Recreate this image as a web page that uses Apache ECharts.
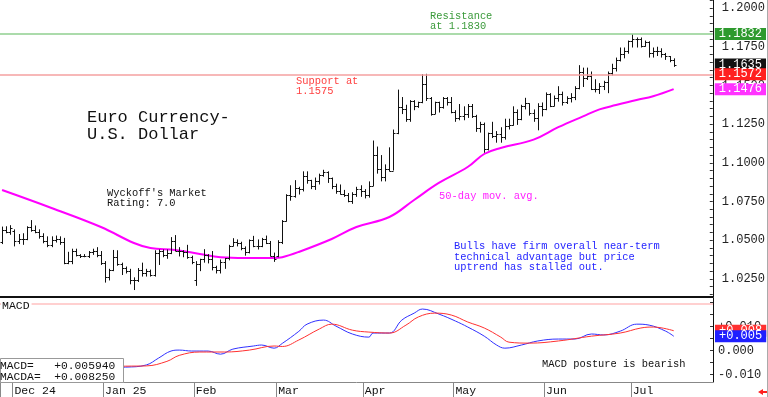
<!DOCTYPE html>
<html>
<head>
<meta charset="utf-8">
<script src="https://cdn.jsdelivr.net/npm/echarts@6/dist/echarts.min.js"></script>
<style>
  html, body { margin: 0; padding: 0; background: #fff; }
  #chart { width: 768px; height: 397px; }
</style>
</head>
<body>
<div id="chart"></div>
<script>
// x slots: weekdays from this date on, Jan 1 left out like the source chart
const startDate = "2024-11-27";
const slotCount = 173;
const skipDays = ["2025-01-01"];
const monthLabels = {
  "2024-12": "Dec 24", "2025-01": "Jan 25", "2025-02": "Feb", "2025-03": "Mar",
  "2025-04": "Apr", "2025-05": "May", "2025-06": "Jun", "2025-07": "Jul"
};

// daily bars: [open, high, low, close]
const bars = [
  // Nov 27-29
  [1.0490, 1.0588, 1.0475, 1.0565], [1.0565, 1.0590, 1.0545, 1.0555], [1.0555, 1.0597, 1.0535, 1.0577],
  // Dec
  [1.0560, 1.0570, 1.0460, 1.0497], [1.0497, 1.0540, 1.0475, 1.0510], [1.0510, 1.0545, 1.0470, 1.0510],
  [1.0510, 1.0590, 1.0500, 1.0587], [1.0587, 1.0630, 1.0555, 1.0568], [1.0568, 1.0595, 1.0545, 1.0555],
  [1.0555, 1.0570, 1.0510, 1.0526], [1.0526, 1.0545, 1.0480, 1.0497], [1.0497, 1.0525, 1.0455, 1.0469],
  [1.0469, 1.0525, 1.0455, 1.0502], [1.0502, 1.0530, 1.0485, 1.0510], [1.0510, 1.0525, 1.0470, 1.0490],
  [1.0490, 1.0515, 1.0345, 1.0352], [1.0352, 1.0425, 1.0345, 1.0363], [1.0363, 1.0445, 1.0345, 1.0430],
  [1.0430, 1.0445, 1.0395, 1.0406], [1.0406, 1.0410, 1.0385, 1.0398], [1.0398, 1.0410, 1.0390, 1.0400],
  [1.0400, 1.0430, 1.0385, 1.0422], [1.0422, 1.0445, 1.0405, 1.0427], [1.0427, 1.0455, 1.0390, 1.0406],
  [1.0406, 1.0430, 1.0340, 1.0354],
  // Jan
  [1.0354, 1.0365, 1.0226, 1.0265], [1.0265, 1.0315, 1.0240, 1.0309], [1.0309, 1.0437, 1.0300, 1.0390],
  [1.0390, 1.0435, 1.0335, 1.0343], [1.0343, 1.0355, 1.0275, 1.0318], [1.0318, 1.0330, 1.0285, 1.0300],
  [1.0300, 1.0315, 1.0215, 1.0244], [1.0244, 1.0260, 1.0178, 1.0244], [1.0244, 1.0320, 1.0230, 1.0308],
  [1.0308, 1.0355, 1.0265, 1.0290], [1.0290, 1.0315, 1.0265, 1.0300], [1.0300, 1.0310, 1.0265, 1.0272],
  [1.0272, 1.0435, 1.0265, 1.0416], [1.0416, 1.0440, 1.0340, 1.0430], [1.0430, 1.0440, 1.0390, 1.0407],
  [1.0407, 1.0440, 1.0380, 1.0415], [1.0415, 1.0520, 1.0410, 1.0495], [1.0495, 1.0533, 1.0430, 1.0430],
  [1.0430, 1.0455, 1.0395, 1.0430], [1.0430, 1.0435, 1.0390, 1.0425], [1.0425, 1.0470, 1.0380, 1.0390],
  [1.0390, 1.0400, 1.0345, 1.0362],
  // Feb
  [1.0245, 1.0365, 1.0205, 1.0345], [1.0345, 1.0380, 1.0300, 1.0380], [1.0380, 1.0442, 1.0355, 1.0403],
  [1.0403, 1.0410, 1.0350, 1.0380], [1.0380, 1.0430, 1.0305, 1.0330], [1.0330, 1.0335, 1.0285, 1.0306],
  [1.0306, 1.0375, 1.0285, 1.0360], [1.0360, 1.0385, 1.0315, 1.0385], [1.0385, 1.0470, 1.0370, 1.0465],
  [1.0465, 1.0513, 1.0460, 1.0490], [1.0490, 1.0505, 1.0460, 1.0485], [1.0485, 1.0490, 1.0435, 1.0450],
  [1.0450, 1.0460, 1.0400, 1.0422], [1.0422, 1.0505, 1.0415, 1.0500], [1.0500, 1.0528, 1.0455, 1.0460],
  [1.0460, 1.0505, 1.0440, 1.0465], [1.0465, 1.0515, 1.0455, 1.0510], [1.0510, 1.0530, 1.0475, 1.0485],
  [1.0485, 1.0495, 1.0395, 1.0400], [1.0400, 1.0420, 1.0360, 1.0377],
  // Mar
  [1.0400, 1.0500, 1.0390, 1.0487], [1.0487, 1.0630, 1.0475, 1.0625], [1.0625, 1.0797, 1.0620, 1.0790],
  [1.0790, 1.0855, 1.0755, 1.0785], [1.0785, 1.0888, 1.0775, 1.0835], [1.0835, 1.0845, 1.0795, 1.0833],
  [1.0833, 1.0945, 1.0815, 1.0918], [1.0918, 1.0945, 1.0865, 1.0887], [1.0887, 1.0890, 1.0830, 1.0852],
  [1.0852, 1.0905, 1.0825, 1.0880], [1.0880, 1.0930, 1.0860, 1.0922], [1.0922, 1.0955, 1.0910, 1.0940],
  [1.0940, 1.0945, 1.0870, 1.0900], [1.0900, 1.0905, 1.0830, 1.0850], [1.0850, 1.0865, 1.0800, 1.0815],
  [1.0815, 1.0860, 1.0795, 1.0800], [1.0800, 1.0825, 1.0780, 1.0792], [1.0792, 1.0805, 1.0745, 1.0753],
  [1.0753, 1.0810, 1.0735, 1.0800], [1.0800, 1.0845, 1.0780, 1.0830], [1.0830, 1.0855, 1.0780, 1.0816],
  // Apr
  [1.0816, 1.0830, 1.0770, 1.0790], [1.0790, 1.0880, 1.0775, 1.0850], [1.0850, 1.1144, 1.0850, 1.1050],
  [1.1050, 1.1105, 1.0930, 1.0960], [1.0960, 1.1050, 1.0880, 1.0910], [1.0910, 1.0990, 1.0880, 1.0960],
  [1.0960, 1.1100, 1.0945, 1.0950], [1.0950, 1.1215, 1.0950, 1.1190], [1.1190, 1.1473, 1.1185, 1.1360],
  [1.1360, 1.1425, 1.1315, 1.1350], [1.1350, 1.1375, 1.1265, 1.1285], [1.1285, 1.1405, 1.1265, 1.1400],
  [1.1400, 1.1405, 1.1340, 1.1365], [1.1365, 1.1395, 1.1355, 1.1390], [1.1390, 1.1573, 1.1385, 1.1510],
  [1.1510, 1.1575, 1.1400, 1.1420], [1.1420, 1.1425, 1.1305, 1.1315], [1.1315, 1.1395, 1.1315, 1.1390],
  [1.1390, 1.1395, 1.1325, 1.1363], [1.1363, 1.1425, 1.1350, 1.1420], [1.1420, 1.1425, 1.1370, 1.1390],
  [1.1390, 1.1425, 1.1320, 1.1330],
  // May
  [1.1330, 1.1340, 1.1265, 1.1290], [1.1290, 1.1380, 1.1275, 1.1300], [1.1300, 1.1365, 1.1275, 1.1315],
  [1.1315, 1.1380, 1.1290, 1.1370], [1.1370, 1.1380, 1.1290, 1.1300], [1.1300, 1.1310, 1.1200, 1.1225],
  [1.1225, 1.1265, 1.1195, 1.1250], [1.1250, 1.1260, 1.1065, 1.1090], [1.1090, 1.1195, 1.1080, 1.1190],
  [1.1190, 1.1265, 1.1160, 1.1175], [1.1175, 1.1205, 1.1130, 1.1185], [1.1185, 1.1230, 1.1130, 1.1165],
  [1.1165, 1.1285, 1.1150, 1.1240], [1.1240, 1.1285, 1.1215, 1.1245], [1.1245, 1.1365, 1.1240, 1.1330],
  [1.1330, 1.1345, 1.1245, 1.1280], [1.1280, 1.1375, 1.1275, 1.1365], [1.1365, 1.1420, 1.1345, 1.1385],
  [1.1385, 1.1385, 1.1305, 1.1325], [1.1325, 1.1345, 1.1265, 1.1290], [1.1290, 1.1385, 1.1210, 1.1370],
  [1.1370, 1.1390, 1.1300, 1.1345],
  // Jun
  [1.1345, 1.1455, 1.1340, 1.1445], [1.1445, 1.1450, 1.1360, 1.1370], [1.1370, 1.1435, 1.1365, 1.1420],
  [1.1420, 1.1495, 1.1395, 1.1445], [1.1445, 1.1460, 1.1370, 1.1395], [1.1395, 1.1430, 1.1380, 1.1420],
  [1.1420, 1.1450, 1.1390, 1.1425], [1.1425, 1.1495, 1.1405, 1.1485], [1.1485, 1.1631, 1.1475, 1.1585],
  [1.1585, 1.1615, 1.1490, 1.1550], [1.1550, 1.1615, 1.1535, 1.1560], [1.1560, 1.1590, 1.1470, 1.1480],
  [1.1480, 1.1540, 1.1455, 1.1480], [1.1480, 1.1515, 1.1445, 1.1495], [1.1495, 1.1530, 1.1470, 1.1520],
  [1.1520, 1.1590, 1.1450, 1.1580], [1.1580, 1.1640, 1.1565, 1.1610], [1.1610, 1.1680, 1.1590, 1.1665],
  [1.1665, 1.1745, 1.1655, 1.1700], [1.1700, 1.1745, 1.1675, 1.1720], [1.1720, 1.1790, 1.1705, 1.1787],
  // Jul 1-15
  [1.1787, 1.1830, 1.1745, 1.1800], [1.1800, 1.1810, 1.1745, 1.1800], [1.1800, 1.1810, 1.1745, 1.1755],
  [1.1755, 1.1790, 1.1750, 1.1780], [1.1780, 1.1785, 1.1680, 1.1710], [1.1710, 1.1745, 1.1680, 1.1725],
  [1.1725, 1.1750, 1.1690, 1.1720], [1.1720, 1.1740, 1.1680, 1.1700], [1.1700, 1.1710, 1.1665, 1.1690],
  [1.1690, 1.1690, 1.1650, 1.1665], [1.1665, 1.1675, 1.1620, 1.1635]
];

// 50-day moving average: [slot, value]
const ma50 = [
  [0, 1.0824], [12, 1.0708], [24, 1.0585], [32, 1.0482], [36, 1.0450], [42, 1.0437],
  [48, 1.0411], [53, 1.0390], [59, 1.0385], [66, 1.0385], [68, 1.0390], [72, 1.0424],
  [80, 1.0508], [86, 1.0585], [94, 1.0650], [100, 1.0760], [106, 1.0870], [113, 1.0973],
  [117, 1.1057], [121, 1.1096], [129, 1.1150], [135, 1.1230], [141, 1.1300], [145, 1.1345],
  [149, 1.1373], [154, 1.1406], [158, 1.1430], [163, 1.1476]
];

// MACD (blue) and its average (red): [slot, value]
const macd = [
  [0, -0.0070], [10, -0.0066], [20, -0.0072], [30, -0.0069], [35, -0.0060], [38, -0.0031],
  [41, -0.0002], [43, 0.0002], [46, -0.0002], [50, -0.0002], [53, -0.0015], [56, 0.0006],
  [61, 0.0019], [63, 0.0023], [66, 0.0010], [68, 0.0030], [72, 0.0080], [74, 0.0110],
  [78, 0.0127], [81, 0.0102], [85, 0.0069], [89, 0.0056], [90, 0.0073], [94, 0.0073],
  [97, 0.0127], [100, 0.0156], [102, 0.0173], [106, 0.0152], [110, 0.0123], [113, 0.0098],
  [117, 0.0060], [120, 0.0023], [122, 0.0010], [126, 0.0023], [130, 0.0040], [135, 0.0048],
  [139, 0.0048], [143, 0.0069], [146, 0.0065], [150, 0.0081], [154, 0.0110], [157, 0.0106],
  [161, 0.0081], [163, 0.00594]
];
const macdAvg = [
  [0, -0.0068], [10, -0.0067], [20, -0.0068], [30, -0.0065], [35, -0.0064], [40, -0.0045],
  [43, -0.0020], [48, -0.0006], [54, -0.0006], [60, 0.0002], [66, 0.0019], [68, 0.0017],
  [72, 0.0044], [77, 0.0090], [80, 0.0110], [85, 0.0085], [89, 0.0077], [94, 0.0073],
  [98, 0.0106], [101, 0.0140], [105, 0.0156], [109, 0.0148], [113, 0.0119], [117, 0.0094],
  [121, 0.0056], [123, 0.0035], [128, 0.0031], [135, 0.0040], [143, 0.0060], [150, 0.0073],
  [155, 0.0094], [158, 0.0098], [163, 0.00825]
];

const priceLabels = [1.025, 1.05, 1.075, 1.1, 1.125, 1.15, 1.175, 1.2];
const macdLabels = [-0.01, 0, 0.01];
const resistance = 1.1832;
const support = 1.1572;
const macdRefLine = 0.0195;

const mono = "Liberation Mono";

// build the weekday slots
const dates = [];
const d = new Date(startDate + "T00:00:00Z");
while (dates.length < slotCount) {
  const s = d.toISOString().slice(0, 10);
  const wd = d.getUTCDay();
  if (wd !== 0 && wd !== 6 && !skipDays.includes(s)) dates.push(s);
  d.setUTCDate(d.getUTCDate() + 1);
}
const monthStart = new Set();
dates.forEach((s, i) => {
  if (i > 0 && s.slice(0, 7) !== dates[i - 1].slice(0, 7)) monthStart.add(i);
});

function stepTicks(from, to, step) {
  const out = [];
  for (let v = from; v <= to + 1e-9; v += step) out.push(+v.toFixed(4));
  return out;
}

function renderBar(params, api) {
  const i = api.value(0);
  const o = api.coord([i, api.value(1)]);
  const h = api.coord([i, api.value(2)]);
  const l = api.coord([i, api.value(3)]);
  const c = api.coord([i, api.value(4)]);
  const x = Math.round(h[0]) + 0.5;
  const yo = Math.round(o[1]) + 0.5;
  const yc = Math.round(c[1]) + 0.5;
  const st = { stroke: "#111", lineWidth: 1 };
  return {
    type: "group",
    children: [
      { type: "line", shape: { x1: x, y1: h[1], x2: x, y2: l[1] }, style: st },
      { type: "line", shape: { x1: x - 2, y1: yo, x2: x, y2: yo }, style: st },
      { type: "line", shape: { x1: x, y1: yc, x2: x + 2, y2: yc }, style: st }
    ]
  };
}

// chart software cuts the last digit instead of rounding it
const cut3 = (v) => (v > 0 ? "+" : "") + (Math.trunc(v * 1000) / 1000).toFixed(3);
const fmt4 = (v) => v.toFixed(4);

// value tag on the right axis; the line itself only shows when a colour is given
function tag(value, bg, fmt, lineColor) {
  return {
    yAxis: value,
    lineStyle: lineColor ? { color: lineColor, width: 1.5, type: "solid" } : { color: "rgba(0,0,0,0)", width: 0 },
    label: {
      show: true, position: "end", distance: 2,
      formatter: () => fmt(value),
      backgroundColor: bg, color: "#fff", fontFamily: mono, fontSize: 12,
      lineHeight: 11, padding: [1, 4, 0, 4]
    }
  };
}

function textEl(x, y, text, color, size, lh) {
  return {
    type: "text", x: x, y: y, z: 50,
    style: { text: text, fill: color, fontFamily: mono, fontSize: size, lineHeight: lh, textVerticalAlign: "top" }
  };
}

const lastClose = bars[bars.length - 1][3];
const lastMa = ma50[ma50.length - 1][1];
const lastMacd = macd[macd.length - 1][1];
const lastMacdAvg = macdAvg[macdAvg.length - 1][1];

const chart = echarts.init(document.getElementById("chart"));
chart.setOption({
  animation: false,
  grid: [
    { left: 0, right: 55, top: 0, height: 297 },
    { left: 0, right: 55, top: 298, height: 84 }
  ],
  xAxis: [
    {
      type: "category", gridIndex: 0, data: dates, boundaryGap: true,
      axisLine: { onZero: false, lineStyle: { color: "#111", width: 2 } },
      axisTick: { show: false }, axisLabel: { show: false }
    },
    {
      type: "category", gridIndex: 1, data: dates, boundaryGap: true,
      axisLine: { onZero: false, lineStyle: { color: "#888" } },
      axisTick: { show: false },
      axisLabel: {
        interval: (i) => monthStart.has(i),
        formatter: (v) => monthLabels[v.slice(0, 7)] || "",
        align: "left", margin: 3, fontFamily: mono, fontSize: 11.5, color: "#111"
      }
    }
  ],
  yAxis: [
    {
      type: "value", gridIndex: 0, position: "right", min: 1.0133, max: 1.2052,
      splitLine: { show: false },
      axisLine: { show: true, lineStyle: { color: "#111" } },
      axisTick: { show: true, inside: true, length: 3, customValues: stepTicks(1.015, 1.205, 0.005), lineStyle: { color: "#333" } },
      axisLabel: {
        customValues: priceLabels, formatter: (v) => v.toFixed(4),
        margin: 9, fontFamily: mono, fontSize: 12, color: "#222"
      }
    },
    {
      type: "value", gridIndex: 1, position: "right", min: -0.0131, max: 0.0219,
      splitLine: { show: false },
      axisLine: { show: true, lineStyle: { color: "#111" } },
      axisTick: { show: true, inside: true, length: 3, customValues: stepTicks(-0.01, 0.02, 0.005), lineStyle: { color: "#333" } },
      axisLabel: {
        customValues: macdLabels,
        formatter: (v) => (v > 0 ? "+" : "") + v.toFixed(3),
        margin: 5, fontFamily: mono, fontSize: 12, color: "#222"
      }
    }
  ],
  series: [
    {
      name: "EUR/USD", type: "custom", xAxisIndex: 0, yAxisIndex: 0,
      data: bars.map((b, i) => [i].concat(b)),
      encode: { x: 0, y: [1, 2, 3, 4] },
      renderItem: renderBar, z: 3
    },
    {
      name: "50-day", type: "line", xAxisIndex: 0, yAxisIndex: 0,
      data: ma50, smooth: 0.4, symbol: "none",
      lineStyle: { color: "#ff00ff", width: 2 }, z: 2,
      markLine: {
        silent: true, symbol: ["none", "none"], animation: false, precision: 5,
        data: [
          tag(resistance, "#2e9a2e", fmt4, "#8fcf8f"),
          tag(lastClose, "#111", fmt4),
          tag(support, "#ff2020", fmt4, "#f5a0a0"),
          tag(lastMa, "#ff33ff", fmt4)
        ]
      }
    },
    {
      name: "MACD", type: "line", xAxisIndex: 1, yAxisIndex: 1,
      data: macd, smooth: 0.4, symbol: "none",
      lineStyle: { color: "#3030ff", width: 1 }
    },
    {
      name: "MACDA", type: "line", xAxisIndex: 1, yAxisIndex: 1,
      data: macdAvg, smooth: 0.4, symbol: "none",
      lineStyle: { color: "#ff3030", width: 1 },
      markLine: {
        silent: true, symbol: ["none", "none"], animation: false, precision: 6,
        data: [
          { yAxis: macdRefLine, lineStyle: { color: "#ffc0c0", width: 1.5, type: "solid" }, label: { show: false } },
          tag(lastMacdAvg, "#ff3030", cut3),
          tag(lastMacd, "#2020ff", cut3)
        ]
      }
    }
  ]
});

// month separators in the date strip, at the left edge of each month's first slot
const band = chart.convertToPixel({ xAxisIndex: 1 }, 1) - chart.convertToPixel({ xAxisIndex: 1 }, 0);
const stripTop = chart.convertToPixel({ yAxisIndex: 1 }, -0.0131);
const separators = [0].concat(Array.from(monthStart)).map((i) => {
  const x = Math.round(chart.convertToPixel({ xAxisIndex: 1 }, i) - band / 2) + 0.5;
  return {
    type: "line", z: 40, shape: { x1: x, y1: stripTop, x2: x, y2: 397 },
    style: { stroke: "#888", lineWidth: 1 }
  };
});

chart.setOption({
  graphic: [
    textEl(430, 11.5, "Resistance\nat 1.1830", "#3a9a3a", 10.4, 10),
    textEl(296, 76.7, "Support at\n1.1575", "#ff4040", 10.4, 10),
    textEl(87, 108.5, "Euro Currency-\nU.S. Dollar", "#111", 17, 17),
    textEl(107, 188.3, "Wyckoff's Market\nRating: 7.0", "#111", 10.4, 10),
    textEl(439, 191, "50-day mov. avg.", "#ff22ff", 10.4, 10),
    textEl(454, 241.5, "Bulls have firm overall near-term\ntechnical advantage but price\nuptrend has stalled out.", "#2525ff", 10.4, 10.3),
    textEl(542, 359.7, "MACD posture is bearish", "#111", 10.4, 10),
    {
      type: "text", x: 1, y: 300, z: 60,
      style: { text: "MACD", fill: "#111", fontFamily: mono, fontSize: 11.5, lineHeight: 12, textVerticalAlign: "top", backgroundColor: "#fff", padding: [0, 2, 0, 1] }
    },
    {
      type: "rect", z: 60, shape: { x: 0.5, y: 358.5, width: 123, height: 24 },
      style: { fill: "#fff", stroke: "#999", lineWidth: 1 }
    },
    {
      type: "text", x: 0, y: 361, z: 61,
      style: { text: "MACD=   +0.005940\nMACDA=  +0.008250", fill: "#111", fontFamily: mono, fontSize: 11.3, lineHeight: 10.7, textVerticalAlign: "top" }
    },
    {
      type: "polygon", z: 60, shape: { points: [[758, 392], [763, 389], [763, 391], [767, 391], [767, 393], [763, 393], [763, 395]] },
      style: { fill: "#ff2020" }
    },
    {
      type: "line", z: 60, shape: { x1: 767.5, y1: 0, x2: 767.5, y2: 397 }, style: { stroke: "#aaa", lineWidth: 1 }
    }
  ].concat(separators)
});
</script>
</body>
</html>
